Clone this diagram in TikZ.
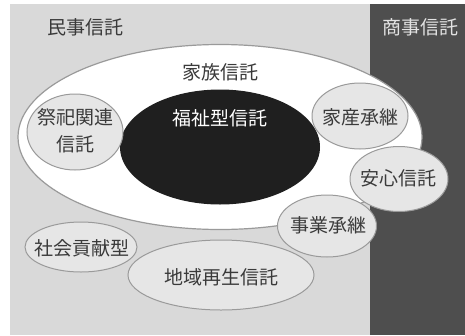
\documentclass[tikz,border=0pt]{standalone}
\usepackage{fontspec}
\newfontfamily\jpfont{Noto Sans CJK JP}
\usetikzlibrary{shapes.geometric}
\definecolor{paneltone}{HTML}{D9D9D9}
\definecolor{darkpanel}{HTML}{4E4E4E}
\definecolor{bubfill}{HTML}{E6E6E6}
\definecolor{bubline}{HTML}{9A9A9A}
\definecolor{txtgray}{HTML}{3A3A3A}
\definecolor{lighttxt}{HTML}{E2E2E2}
\begin{document}
\begin{tikzpicture}[x=1pt,y=-1pt,
  bub/.style={ellipse, draw=bubline, line width=1pt, fill=bubfill, inner sep=0pt},
  lbl/.style={font=\jpfont\fontsize{19}{27}\selectfont, text=txtgray, inner sep=0pt, align=center}]
\useasboundingbox (0,0) rectangle (465,335);
\fill[white] (0,0) rectangle (465,335);
\node[fill=paneltone, minimum width=360pt, minimum height=331pt, inner sep=0pt, anchor=north west] (minji) at (10,4) {};
\node[fill=darkpanel, minimum width=95pt, minimum height=331pt, inner sep=0pt, anchor=north west] (shoji) at (370,4) {};
\node[lbl] (tminji) at (85,27) {民事信託};
\node[lbl, text=lighttxt] (tshoji) at (420,27) {商事信託};
% family trust
\node[ellipse, draw=bubline, line width=1.2pt, fill=white, inner sep=0pt, minimum width=404pt, minimum height=185pt] (kazoku) at (220,137) {};
\node[lbl] (tkazoku) at (220,72) {家族信託};
\node[ellipse, fill=black!88, inner sep=0pt, minimum width=200pt, minimum height=115pt] (fukushi) at (220,147) {};
\node[lbl, text=white] (tfukushi) at (220,118) {福祉型信託};
% bubbles
\node[bub, minimum width=96pt, minimum height=76pt] (saishi) at (75,132) {};
\node[lbl] (tsaishi) at (75,131) {祭祀関連\\信託};
\node[bub, minimum width=96pt, minimum height=66pt] (kasan) at (360,116) {};
\node[lbl] (tkasan) at (360,117) {家産承継};
\node[bub, minimum width=112pt, minimum height=50pt] (shakai) at (81,247) {};
\node[lbl] (tshakai) at (82,248) {社会貢献型};
\node[bub, minimum width=186pt, minimum height=70pt] (chiiki) at (221,275) {};
\node[lbl] (tchiiki) at (221,277) {地域再生信託};
\node[bub, minimum width=99pt, minimum height=62pt] (jigyo) at (327,226) {};
\node[lbl] (tjigyo) at (328,225) {事業承継};
\node[bub, minimum width=98pt, minimum height=65pt] (anshin) at (399,179) {};
\node[lbl] (tanshin) at (398,178) {安心信託};
\end{tikzpicture}
\end{document}
